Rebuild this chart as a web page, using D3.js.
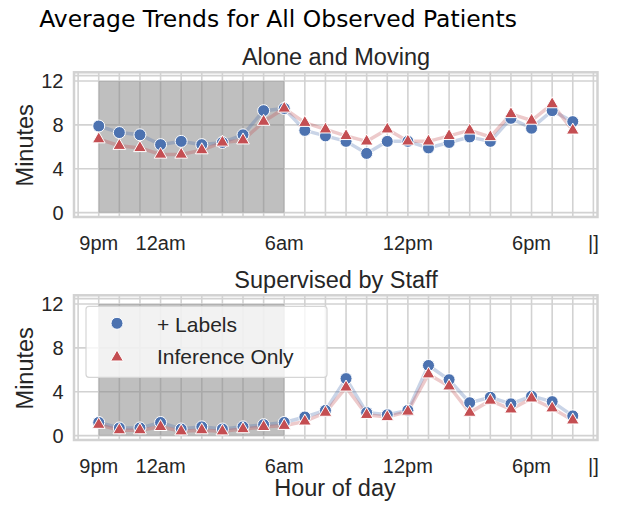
<!DOCTYPE html>
<html>
<head>
<meta charset="utf-8">
<script src="https://cdn.jsdelivr.net/npm/d3@7/dist/d3.min.js"></script>
<style>
  body { margin: 0; background: #fff; }
  text { font-family: "Liberation Sans", Arial, sans-serif; fill: #262626; }
</style>
</head>
<body>
<svg id="chart" width="625" height="506"></svg>
<script>
// categories: hour of day, starting at 9pm
const hours = [21, 22, 23, 0, 1, 2, 3, 4, 5, 6, 7, 8, 9, 10, 11, 12, 13, 14, 15, 16, 17, 18, 19, 20];
const tickIdx = [0, 3, 9, 15, 21, 24];
const tickLabels = ['9pm', '12am', '6am', '12pm', '6pm', '|]'];
const yTicks = [0, 4, 8, 12];
const seriesNames = ['+ Labels', 'Inference Only'];

// Alone and Moving
const aloneLabels = [7.9, 7.3, 7.1, 6.2, 6.5, 6.2, 6.4, 7.1, 9.3, 9.5, 7.5, 7.0,
                     6.5, 5.4, 6.5, 6.5, 5.9, 6.4, 6.9, 6.5, 8.6, 7.7, 9.3, 8.3];
const aloneInference = [6.7, 6.1, 5.9, 5.3, 5.3, 5.7, 6.4, 6.6, 8.3, 9.5, 8.2, 7.6,
                        7.0, 6.5, 7.6, 6.5, 6.5, 7.0, 7.5, 6.9, 9.0, 8.4, 9.9, 7.5];

// Supervised by Staff
const staffLabels = [1.2, 0.7, 0.7, 1.2, 0.6, 0.8, 0.6, 0.8, 1.0, 1.2, 1.7, 2.3,
                     5.2, 2.1, 1.9, 2.3, 6.4, 5.1, 3.0, 3.5, 2.9, 3.6, 3.1, 1.8];
const staffInference = [1.0, 0.5, 0.5, 0.8, 0.4, 0.5, 0.4, 0.6, 0.8, 0.9, 1.3, 2.1,
                        4.4, 1.9, 1.7, 2.2, 5.6, 4.5, 2.1, 3.2, 2.4, 3.4, 2.5, 1.4];

const blue = '#4c72b0';
const red = '#c44e52';
const gridColor = '#d2d2d2';

const svg = d3.select('#chart');

const x = d3.scaleLinear().domain([-1.2, 24.2]).range([74, 597.5]);

// suptitle, fitted to the reference width
const title = svg.append('text')
  .attr('x', 278).attr('y', 27)
  .attr('text-anchor', 'middle')
  .style('font-family', '"DejaVu Sans", sans-serif')
  .style('fill', '#000')
  .style('font-size', '22px')
  .text('Average Trends for All Observed Patients');
const tw = title.node().getComputedTextLength();
title.style('font-size', (22 * 478 / tw) + 'px');

function drawPanel(top, name, labelsData, inferData, showLegend, showXLabel) {
  const g = svg.append('g');
  const y = d3.scaleLinear().domain([-0.4, 12.8]).range([top + 144.7, top]);

  // grid
  const vGrid = d3.range(-1, 25);
  g.selectAll('.vg').data(vGrid).enter().append('line')
    .attr('x1', d => x(d)).attr('x2', d => x(d))
    .attr('y1', y.range()[0]).attr('y2', y.range()[1])
    .attr('stroke', gridColor).attr('stroke-width', 1.6);
  g.selectAll('.hg').data(yTicks.concat([12.5])).enter().append('line')
    .attr('x1', x.range()[0]).attr('x2', x.range()[1])
    .attr('y1', d => y(d)).attr('y2', d => y(d))
    .attr('stroke', gridColor).attr('stroke-width', 1.6);

  // night shading
  g.append('rect')
    .attr('x', x(0)).attr('width', x(9) - x(0))
    .attr('y', y(12)).attr('height', y(0) - y(12))
    .attr('fill', '#808080').attr('opacity', 0.5);

  // frame
  g.append('rect')
    .attr('x', x.range()[0]).attr('y', y.range()[1])
    .attr('width', x.range()[1] - x.range()[0])
    .attr('height', y.range()[0] - y.range()[1])
    .attr('fill', 'none').attr('stroke', gridColor).attr('stroke-width', 2.5);

  // lines
  const line = d3.line().x((d, i) => x(i)).y(d => y(d));
  [[labelsData, blue], [inferData, red]].forEach(([data, color]) => {
    g.append('path').datum(data)
      .attr('d', line)
      .attr('fill', 'none').attr('stroke', color)
      .attr('stroke-width', 3.5).attr('opacity', 0.3);
  });

  // markers
  g.selectAll('.dot').data(labelsData).enter().append('circle')
    .attr('cx', (d, i) => x(i)).attr('cy', d => y(d)).attr('r', 6)
    .attr('fill', blue).attr('stroke', '#fff').attr('stroke-width', 1);
  const tri = d3.symbol().type(d3.symbolTriangle).size(70);
  g.selectAll('.tri').data(inferData).enter().append('path')
    .attr('d', tri)
    .attr('transform', (d, i) => `translate(${x(i)},${y(d)})`)
    .attr('fill', red).attr('stroke', '#fff').attr('stroke-width', 1);

  // ticks
  g.selectAll('.xt').data(tickIdx).enter().append('text')
    .attr('x', d => x(d)).attr('y', top + 177.7)
    .attr('text-anchor', 'middle')
    .style('font-size', '20px')
    .text((d, i) => tickLabels[i]);
  g.selectAll('.yt').data(yTicks).enter().append('text')
    .attr('x', 63.5).attr('y', d => y(d)).attr('dy', '0.36em')
    .attr('text-anchor', 'end')
    .style('font-size', '20px')
    .text(d => d);

  // titles
  g.append('text')
    .attr('x', 336).attr('y', top - 7.5)
    .attr('text-anchor', 'middle')
    .style('font-size', '23.5px')
    .text(name);
  g.append('text')
    .attr('transform', `translate(33,${top + 73}) rotate(-90)`)
    .attr('text-anchor', 'middle')
    .style('font-size', '23.5px')
    .text('Minutes');

  if (showXLabel) {
    g.append('text')
      .attr('x', 335).attr('y', top + 200.7)
      .attr('text-anchor', 'middle')
      .style('font-size', '23.5px')
      .text('Hour of day');
  }

  if (showLegend) {
    const lg = g.append('g');
    lg.append('rect')
      .attr('x', 86).attr('y', top + 11).attr('width', 241).attr('height', 71)
      .attr('rx', 3)
      .attr('fill', '#fff').attr('fill-opacity', 0.8)
      .attr('stroke', '#d6d6d6').attr('stroke-width', 1.2);
    lg.append('circle')
      .attr('cx', 117).attr('cy', top + 28).attr('r', 6)
      .attr('fill', blue).attr('stroke', '#fff').attr('stroke-width', 1);
    lg.append('path')
      .attr('d', tri)
      .attr('transform', `translate(117,${top + 62})`)
      .attr('fill', red).attr('stroke', '#fff').attr('stroke-width', 1);
    lg.selectAll('.lt').data(seriesNames).enter().append('text')
      .attr('x', 157).attr('y', (d, i) => top + 36.5 + i * 32)
      .style('font-size', '21px')
      .text(d => d);
  }
}

drawPanel(72.3, 'Alone and Moving', aloneLabels, aloneInference, false, false);
drawPanel(295.3, 'Supervised by Staff', staffLabels, staffInference, true, true);
</script>
</body>
</html>
